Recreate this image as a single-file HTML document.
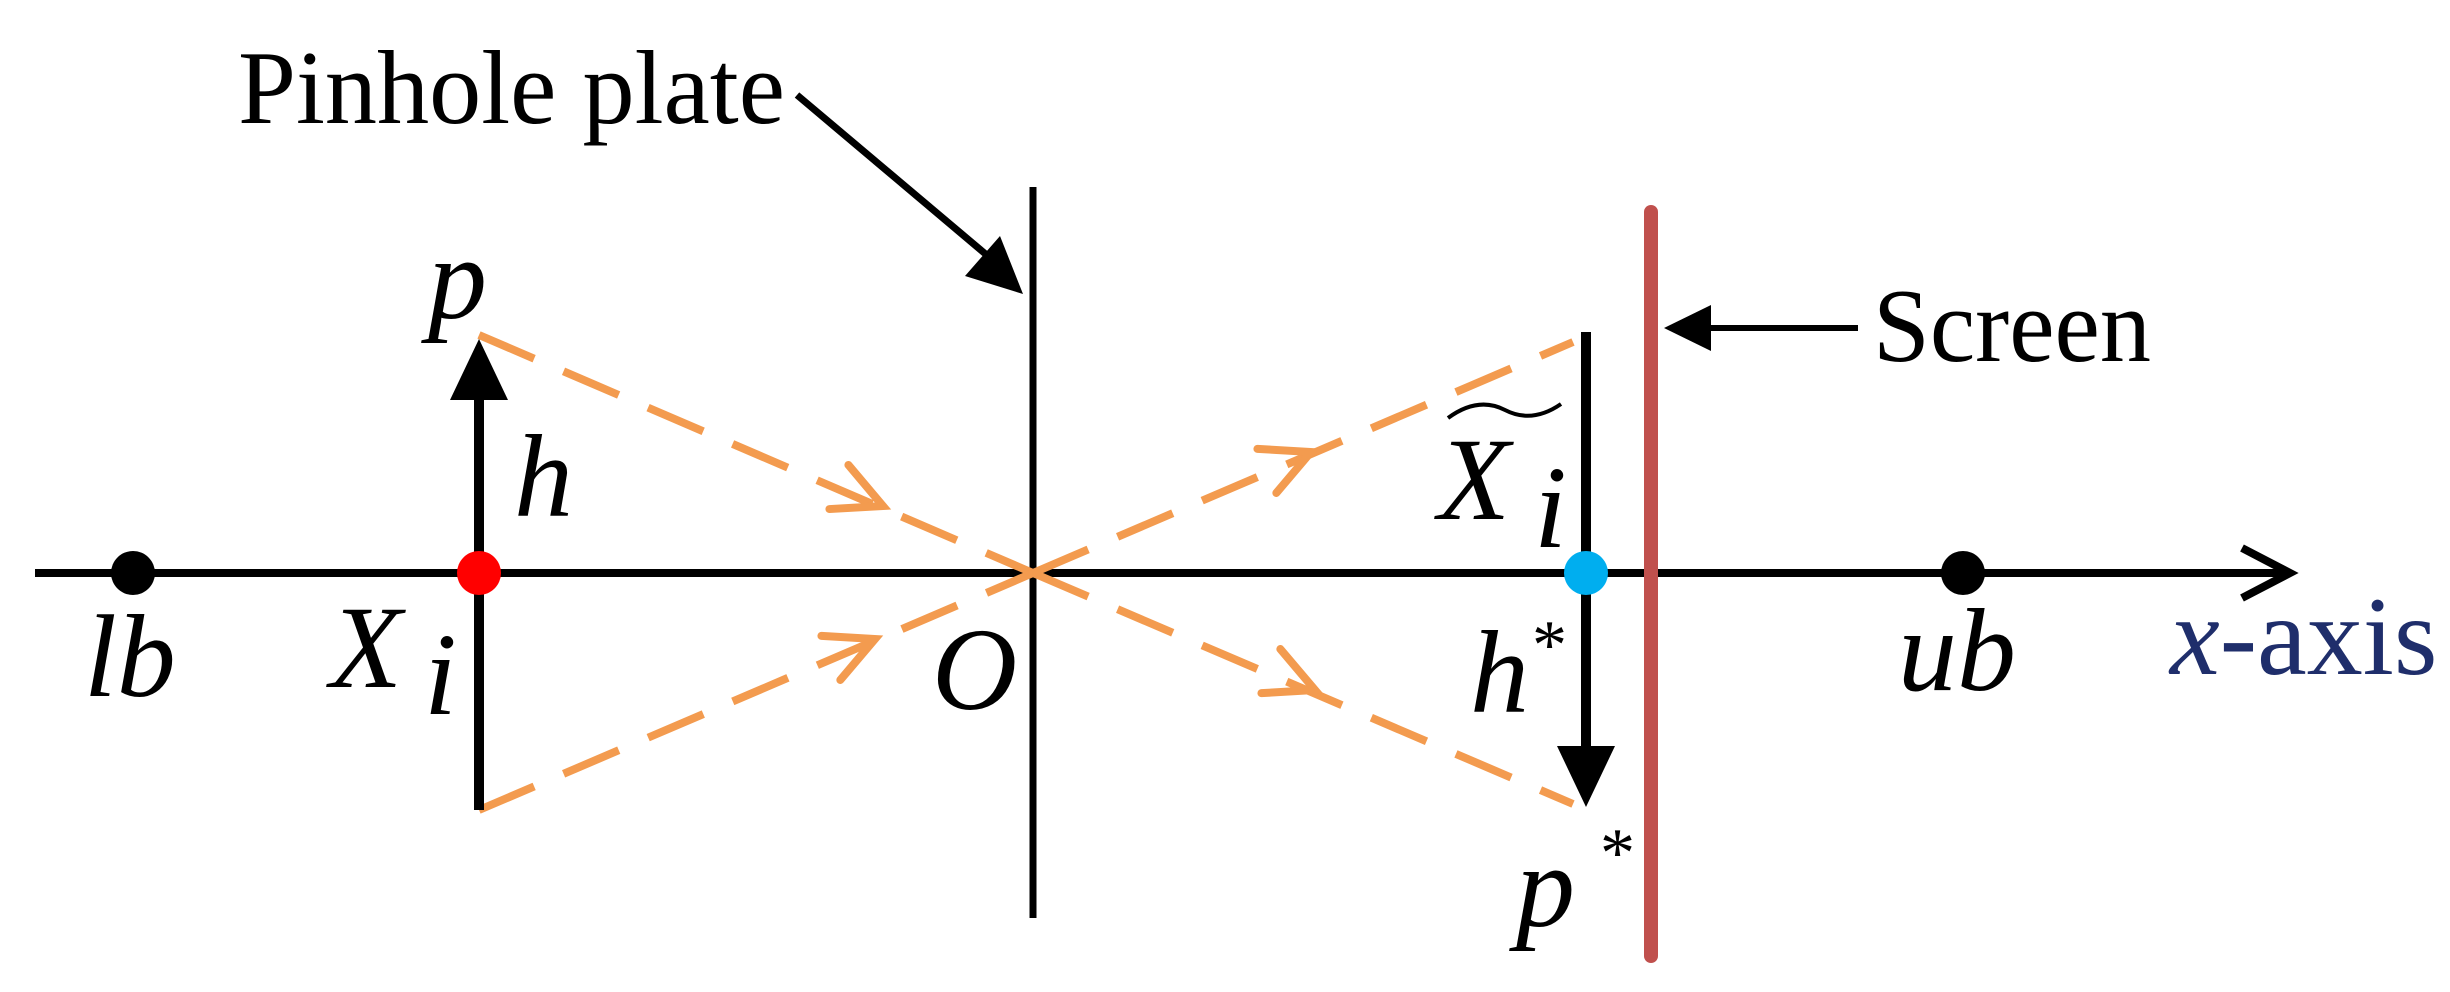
<!DOCTYPE html>
<html><head><meta charset="utf-8"><style>
html,body{margin:0;padding:0;background:#fff;}
svg{display:block;}
text{font-family:"Liberation Serif",serif;}
.it{font-style:italic;font-size:118px;fill:#000;}
</style></head><body>
<svg width="2450" height="992" viewBox="0 0 2450 992" xmlns="http://www.w3.org/2000/svg">
<line x1="35" y1="573" x2="2288" y2="573" stroke="#000" stroke-width="8"/>
<polyline points="2242,548 2290,573 2242,598" fill="none" stroke="#000" stroke-width="8"/>
<line x1="1033" y1="187" x2="1033" y2="918" stroke="#000" stroke-width="7"/>
<line x1="1651" y1="212" x2="1651" y2="956" stroke="#C0504D" stroke-width="14" stroke-linecap="round"/>
<g stroke="#F39B4F" stroke-width="8" fill="none" stroke-dasharray="60,32">
<line x1="479" y1="335" x2="1033" y2="573"/>
<line x1="479" y1="810" x2="1033" y2="573"/>
<line x1="1033" y1="573" x2="1573" y2="342"/>
<line x1="1033" y1="573" x2="1573" y2="804"/>
</g>
<g stroke="#F39B4F" stroke-width="8" fill="none" stroke-linecap="round">
<polyline points="-48,-24 0,0 -48,24" transform="translate(883,506) rotate(23.3)"/>
<polyline points="-48,-24 0,0 -48,24" transform="translate(875,639) rotate(-23.2)"/>
<polyline points="-48,-24 0,0 -48,24" transform="translate(1311,452) rotate(-23.2)"/>
<polyline points="-48,-24 0,0 -48,24" transform="translate(1315,690) rotate(23.2)"/>
</g>
<line x1="479" y1="810" x2="479" y2="395" stroke="#000" stroke-width="10"/>
<polygon points="479,339 450,400 508,400" fill="#000"/>
<line x1="1586" y1="332" x2="1586" y2="750" stroke="#000" stroke-width="10"/>
<polygon points="1586,807 1557,746 1615,746" fill="#000"/>
<circle cx="133" cy="573" r="22" fill="#000"/>
<circle cx="1963" cy="573" r="22" fill="#000"/>
<circle cx="479" cy="573" r="22" fill="#FF0000"/>
<circle cx="1586" cy="573" r="22" fill="#00AEEF"/>
<text x="238" y="123" font-size="105" textLength="547" lengthAdjust="spacingAndGlyphs">Pinhole plate</text>
<line x1="797" y1="95" x2="995" y2="262" stroke="#000" stroke-width="7"/>
<polygon points="1023,294 965,276 1000,236" fill="#000"/>
<line x1="1700" y1="328" x2="1858" y2="328" stroke="#000" stroke-width="6"/>
<polygon points="1664,328 1711,305 1711,351" fill="#000"/>
<text x="1873" y="361" font-size="105" textLength="278" lengthAdjust="spacingAndGlyphs">Screen</text>
<text class="it" x="428" y="318">p</text>
<text class="it" x="514" y="516">h</text>
<text class="it" x="330" y="687">X</text>
<text class="it" x="424" y="714" font-size="90">i</text>
<text class="it" x="84" y="696">lb</text>
<text class="it" x="932" y="709">O</text>
<text class="it" x="1438" y="519">X</text>
<path d="M1448,418 Q1478,396 1505,410 T1561,404" fill="none" stroke="#000" stroke-width="4"/>
<text class="it" x="1534" y="547" font-size="90">i</text>
<text class="it" x="1470" y="712">h</text>
<text x="1532" y="668" font-size="70" fill="#000">*</text>
<text class="it" x="1516" y="926">p</text>
<text x="1600" y="876" font-size="70" fill="#000">*</text>
<text class="it" x="1898" y="690">ub</text>
<text x="2170" y="674" font-size="112" fill="#1F2E6B"><tspan font-style="italic">x</tspan>-axis</text>
</svg>
</body></html>
